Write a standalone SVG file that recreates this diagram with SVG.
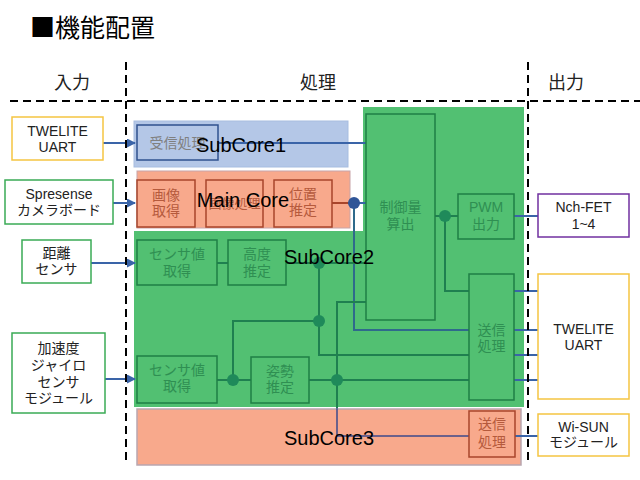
<svg xmlns="http://www.w3.org/2000/svg" width="640" height="480" viewBox="0 0 640 480">
<defs>
<marker id="arr" markerUnits="userSpaceOnUse" markerWidth="9" markerHeight="9" refX="8" refY="4.5" orient="auto">
<path d="M0,0 L9,4.5 L0,9 z" fill="#3a64a8"/>
</marker>
</defs>
<style>
text{font-family:"Liberation Sans","Noto Sans CJK JP",sans-serif;text-anchor:middle}
.big{font-size:20px;fill:#000}
.t{font-size:14px}
.in{fill:#222}
.g{fill:#2f8f52}
.r{fill:#b55a3c}
.gy{fill:#808080}
.gb{fill:none;stroke:#1f7f46;stroke-width:1.5}
.rb{fill:none;stroke:#a8452b;stroke-width:1.5}
.dash{stroke:#000;stroke-width:2;stroke-dasharray:8 5;fill:none}
.bl{stroke:#3a64a8;stroke-width:2;fill:none}
.gl{stroke:#1f8050;stroke-width:2;fill:none}
.yb{fill:#fff;stroke:#f5c542;stroke-width:1.5}
.grb{fill:#fff;stroke:#3aab55;stroke-width:1.5}
.gd{fill:#1f8a5a}
</style>

<text x="30" y="37" style="font-family:'Noto Sans CJK JP',sans-serif;font-size:25px;text-anchor:start;fill:#000">■機能配置</text>
<text x="72" y="89" style="font-size:18px;fill:#222">入力</text>
<text x="318" y="89" style="font-size:18px;fill:#222">処理</text>
<text x="566" y="89" style="font-size:18px;fill:#222">出力</text>

<g id="regions">
<rect id="subcore1" x="134" y="121" width="214" height="46" fill="#b4c7e7" stroke="#a7bde0"/>
<rect id="maincore" x="137" y="171" width="213" height="57" fill="#f8a98c" stroke="#c8a4a8"/>
<polygon id="subcore2" points="363,107 524,107 524,407 134,407 134,231 363,231" fill="#52c072"/>
<rect id="subcore3" x="137" y="409" width="384" height="56" fill="#f8a98c" stroke="#b9a6b0" stroke-width="1.5"/>
</g>

<g id="connectors">
<path class="bl" d="M103,143 H135" marker-end="url(#arr)"/>
<path class="bl" d="M113,203 H135" marker-end="url(#arr)"/>
<path class="bl" d="M91,263 H135" marker-end="url(#arr)"/>
<path class="bl" d="M105,379 H135" marker-end="url(#arr)"/>
<path class="bl" d="M218,143 H366"/>
<path d="M332,203 H354" stroke="#a8452b" stroke-width="2" fill="none"/>
<path class="bl" d="M354,203 H366"/>
<path d="M354,203 V330 H469" stroke="#2f6a8c" stroke-width="2" fill="none"/>
<path class="gl" d="M217,263 H228"/>
<path class="gl" d="M286,263 H366"/>
<path class="gl" d="M319,263 V355 H469"/>
<path class="gl" d="M319,321 H233 V380"/>
<path class="gl" d="M217,380 H251"/>
<path class="gl" d="M309,380 H469"/>
<path class="gl" d="M366,302 H337 V408"/>
<path d="M337,408 V436 H469" stroke="#3c4a8a" stroke-width="1.5" fill="none"/>
<path class="gl" d="M435,216 H458"/>
<path class="gl" d="M445,216 V291 H469"/>
<path class="bl" d="M514,216 H538"/>
<path class="bl" d="M514,291 H538"/>
<path class="bl" d="M514,330 H538"/>
<path class="bl" d="M514,355 H538"/>
<path class="bl" d="M514,380 H538"/>
<path class="bl" d="M515,436 H538"/>
<circle cx="354" cy="203" r="6" fill="#2f5597"/>
<circle class="gd" cx="319" cy="263" r="6"/>
<circle class="gd" cx="319" cy="321" r="6"/>
<circle class="gd" cx="233" cy="380" r="6"/>
<circle class="gd" cx="337" cy="380" r="6"/>
<circle class="gd" cx="445" cy="216" r="6"/>
</g>

<g id="dashes">
<path class="dash" d="M10,101 H640"/>
<path class="dash" d="M126,62 V462"/>
<path class="dash" d="M528,62 V462"/>
</g>

<g id="in-twelite"><rect class="yb" x="12" y="117" width="91" height="43"/>
<text class="t in" x="57.5" y="136">TWELITE</text><text class="t in" x="57.5" y="152">UART</text></g>
<g id="in-spresense"><rect class="grb" x="5" y="180" width="108" height="44"/>
<text class="t in" x="59" y="199">Spresense</text><text class="t in" x="59" y="215">カメラボード</text></g>
<g id="in-distance"><rect class="grb" x="22" y="240" width="69" height="43"/>
<text class="t in" x="56.5" y="258">距離</text><text class="t in" x="56.5" y="274">センサ</text></g>
<g id="in-imu"><rect class="grb" x="12" y="333" width="93" height="80"/>
<text class="t in" x="58.5" y="353">加速度</text><text class="t in" x="58.5" y="370">ジャイロ</text><text class="t in" x="58.5" y="387">センサ</text><text class="t in" x="58.5" y="403">モジュール</text></g>

<g id="out-nchfet"><rect x="538" y="194" width="91" height="43" fill="#fff" stroke="#7030a0" stroke-width="1.5"/>
<text class="t in" x="583.5" y="212">Nch-FET</text><text class="t in" x="583.5" y="229">1~4</text></g>
<g id="out-twelite"><rect class="yb" x="538" y="274" width="91" height="125"/>
<text class="t in" x="583.5" y="334">TWELITE</text><text class="t in" x="583.5" y="350">UART</text></g>
<g id="out-wisun"><rect class="yb" x="538" y="414" width="91" height="42"/>
<text class="t in" x="583.5" y="432">Wi-SUN</text><text class="t in" x="583.5" y="447">モジュール</text></g>

<g id="recv"><rect x="137" y="125" width="81" height="35" fill="none" stroke="#2f528f" stroke-width="1.5"/>
<text class="t gy" x="177.5" y="148">受信処理</text></g>

<g id="img-get"><rect class="rb" x="137" y="180" width="58" height="47"/>
<text class="t r" x="166" y="200">画像</text><text class="t r" x="166" y="216">取得</text></g>
<g id="img-proc"><rect class="rb" x="206" y="180" width="57" height="47"/>
<text class="r" style="font-size:13px" x="234.5" y="208">画像処理</text></g>
<g id="pos-est"><rect class="rb" x="274" y="180" width="58" height="47"/>
<text class="t r" x="303" y="199">位置</text><text class="t r" x="303" y="215">推定</text></g>

<g id="sens1"><rect class="gb" x="137" y="240" width="80" height="45"/>
<text class="t g" x="177" y="259">センサ値</text><text class="t g" x="177" y="276">取得</text></g>
<g id="alt"><rect class="gb" x="228" y="240" width="58" height="45"/>
<text class="t g" x="257" y="259">高度</text><text class="t g" x="257" y="276">推定</text></g>
<g id="sens2"><rect class="gb" x="137" y="356" width="80" height="47"/>
<text class="t g" x="177" y="375">センサ値</text><text class="t g" x="177" y="391">取得</text></g>
<g id="att"><rect class="gb" x="251" y="357" width="58" height="46"/>
<text class="t g" x="280" y="376">姿勢</text><text class="t g" x="280" y="392">推定</text></g>
<g id="ctrl"><rect class="gb" x="366" y="114" width="69" height="206"/>
<text class="t g" x="400.5" y="212">制御量</text><text class="t g" x="400.5" y="229">算出</text></g>
<g id="pwm"><rect class="gb" x="458" y="194" width="56" height="45"/>
<text class="t g" x="486" y="212">PWM</text><text class="t g" x="486" y="229">出力</text></g>
<g id="send2"><rect class="gb" x="469" y="274" width="45" height="126"/>
<text class="t g" x="491.5" y="335">送信</text><text class="t g" x="491.5" y="351">処理</text></g>
<g id="send3"><rect class="rb" x="469" y="411" width="46" height="46"/>
<text class="t r" x="492" y="429">送信</text><text class="t r" x="492" y="447">処理</text></g>

<g id="labels">
<text class="big" x="241" y="152">SubCore1</text>
<text class="big" x="243" y="207">Main Core</text>
<text class="big" x="329" y="264">SubCore2</text>
<text class="big" x="329" y="445">SubCore3</text>
</g>
</svg>
